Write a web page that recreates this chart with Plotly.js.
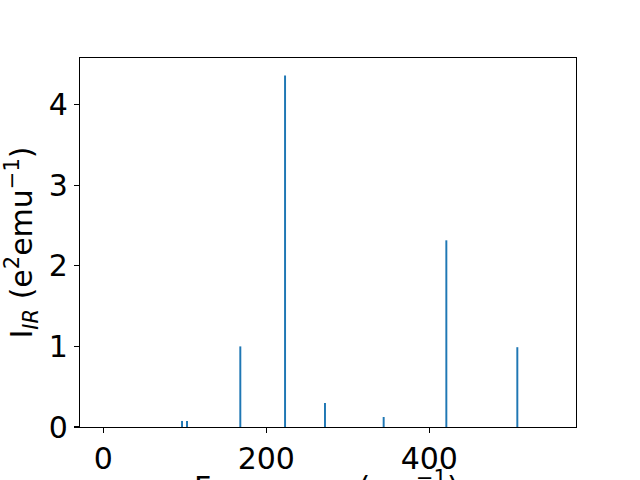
<!DOCTYPE html>
<html>
<head>
<meta charset="utf-8">
<script src="https://cdn.plot.ly/plotly-3.0.1.min.js"></script>
<style>html,body{margin:0;padding:0;background:#fff;}#chart{width:640px;height:480px;}</style>
</head>
<body>
<div id="chart"></div>
<script>
const frequencies = [96.6, 102.7, 168.1, 223.0, 272.0, 344.0, 420.9, 508.0];
const intensities = [0.075, 0.075, 1.00, 4.36, 0.297, 0.124, 2.316, 0.99];
const xTicks = [0, 200, 400];
const yTicks = [0, 1, 2, 3, 4];

const trace = {
  type: 'bar',
  x: frequencies,
  y: intensities,
  width: 2.4,
  marker: {color: '#1f77b4', line: {width: 0}},
  hoverinfo: 'x+y'
};

const fontFam = 'DejaVu Sans, sans-serif';
const layout = {
  width: 640, height: 480,
  margin: {l: 80, r: 64, t: 57.6, b: 52.8, pad: 0},
  paper_bgcolor: '#fff', plot_bgcolor: '#fff',
  showlegend: false,
  font: {family: fontFam, size: 30, color: '#000'},
  xaxis: {
    range: [-28.6, 580],
    tickvals: xTicks,
    ticktext: xTicks.map(String),
    ticks: 'outside', ticklen: 5, tickwidth: 1.1, tickcolor: '#000',
    showline: true, linecolor: '#000', linewidth: 1.1, mirror: true,
    showgrid: false, zeroline: false,
    tickfont: {family: fontFam, size: 30, color: '#000'},
    automargin: false
  },
  yaxis: {
    range: [0, 4.578],
    tickvals: yTicks,
    ticktext: yTicks.map(String),
    ticks: 'outside', ticklen: 5, tickwidth: 1.1, tickcolor: '#000',
    showline: true, linecolor: '#000', linewidth: 1.1, mirror: true,
    showgrid: false, zeroline: false,
    tickfont: {family: fontFam, size: 30, color: '#000'},
    title: {text: 'I<sub><i>IR</i></sub> (e<sup>2</sup>emu<sup>−1</sup>)', font: {family: fontFam, size: 30, color: '#000'}, standoff: 8},
    automargin: false
  },
  annotations: [{
    xref: 'paper', yref: 'paper',
    x: 0.4975, y: -0.100,
    xanchor: 'center', yanchor: 'top',
    showarrow: false,
    text: 'Frequency (cm<sup>−1</sup>)',
    font: {family: fontFam, size: 30, color: '#000'}
  }]
};

Plotly.newPlot('chart', [trace], layout, {displayModeBar: false, staticPlot: true});
</script>
</body>
</html>
